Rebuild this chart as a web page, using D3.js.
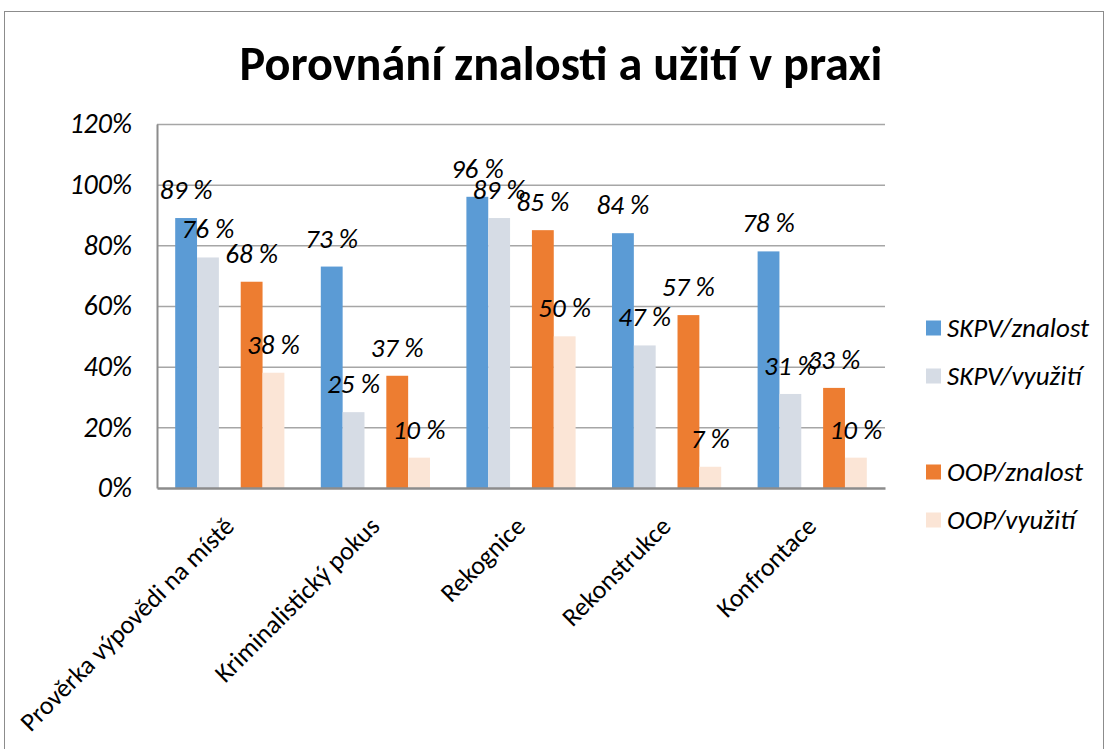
<!DOCTYPE html>
<html>
<head>
<meta charset="utf-8">
<script src="https://cdn.jsdelivr.net/npm/d3@7"></script>
<style>
  body { margin: 0; background: #fff; }
  svg { display: block; font-family: Carlito, Lato, sans-serif; }
</style>
</head>
<body>
<svg id="chart" width="1106" height="749"></svg>
<script>
// data
const categories = ["Prověrka výpovědi na místě", "Kriminalistický pokus", "Rekognice", "Rekonstrukce", "Konfrontace"];
const seriesNames = ["SKPV/znalost", "SKPV/využití", "", "OOP/znalost", "OOP/využití"]; // "" = empty series slot like in the original
const skpvZnalost = [89, 73, 96, 84, 78];
const skpvVyuziti = [76, 25, 89, 47, 31];
const oopZnalost = [68, 37, 85, 57, 33];
const oopVyuziti = [38, 10, 50, 7, 10];
const yTicks = [0, 20, 40, 60, 80, 100, 120];

const colors = {
    "SKPV/znalost": "#5B9BD5",
    "SKPV/využití": "#D6DCE5",
    "OOP/znalost": "#ED7D31",
    "OOP/využití": "#FBE5D6"
};
const values = {
    "SKPV/znalost": skpvZnalost,
    "SKPV/využití": skpvVyuziti,
    "OOP/znalost": oopZnalost,
    "OOP/využití": oopVyuziti
};

const svg = d3.select("#chart");

// outer frame of the chart
svg.append("rect")
    .attr("x", 4.5).attr("y", 11.5)
    .attr("width", 1099).attr("height", 760)
    .attr("fill", "none").attr("stroke", "#8c8c8c").attr("stroke-width", 1);

// title, fitted to the width it has in the original
const title = svg.append("text")
    .attr("x", 561).attr("y", 80)
    .attr("text-anchor", "middle")
    .attr("font-weight", "bold")
    .attr("font-size", 44)
    .text("Porovnání znalosti a užití v praxi");
const tw = title.node().getComputedTextLength();
title.attr("font-size", 44 * 643 / tw);

const plotL = 157, plotR = 885, plotT = 124, plotB = 488;

const x = d3.scaleBand()
    .domain(categories)
    .range([plotL, plotR])
    .paddingInner(0.25)
    .paddingOuter(0.125);

const xs = d3.scaleBand()
    .domain(seriesNames)
    .range([0, x.bandwidth()]);

const y = d3.scaleLinear()
    .domain([0, 120])
    .range([plotB, plotT]);

// gridlines
svg.append("g")
    .attr("transform", `translate(${plotL},0)`)
    .call(d3.axisLeft(y).tickValues(yTicks.slice(1)).tickSize(-(plotR - plotL)).tickFormat(""))
    .call(g => g.select(".domain").remove())
    .call(g => g.selectAll("line").attr("stroke", "#a6a6a6").attr("stroke-width", 1.5));

// y axis
svg.append("g")
    .attr("transform", `translate(${plotL},0)`)
    .call(d3.axisLeft(y).tickValues(yTicks).tickFormat(d => d + "%").tickSize(0).tickPadding(25))
    .call(g => g.select(".domain").attr("stroke", "#8c8c8c").attr("stroke-width", 2))
    .call(g => g.selectAll("text")
        .attr("font-size", 28)
        .attr("font-style", "italic")
        .attr("font-family", "Carlito, Lato, sans-serif")
        .attr("fill", "#000"));

// bars
const barSeries = seriesNames.filter(s => s !== "");
const groups = svg.append("g").selectAll("g")
    .data(categories)
    .join("g")
    .attr("transform", d => `translate(${x(d)},0)`);

groups.selectAll("rect")
    .data((c, i) => barSeries.map(s => ({ s: s, v: values[s][i] })))
    .join("rect")
    .attr("x", d => xs(d.s))
    .attr("y", d => y(d.v))
    .attr("width", xs.bandwidth())
    .attr("height", d => y(0) - y(d.v))
    .attr("fill", d => colors[d.s]);

// x axis line
svg.append("g")
    .attr("transform", `translate(0,${plotB})`)
    .call(d3.axisBottom(x).tickSize(0).tickFormat(""))
    .call(g => g.select(".domain").attr("stroke", "#8c8c8c").attr("stroke-width", 2.5));

// value labels
groups.selectAll("text.val")
    .data((c, i) => barSeries.map(s => ({ s: s, v: values[s][i] })))
    .join("text")
    .attr("class", "val")
    .attr("x", d => xs(d.s) + xs.bandwidth() / 2)
    .attr("y", d => y(d.v) - 19)
    .attr("text-anchor", "middle")
    .attr("font-size", 27)
    .attr("font-style", "italic")
    .text(d => d.v + " %");

// category labels
svg.append("g").selectAll("text")
    .data(categories)
    .join("text")
    .attr("transform", d => `translate(${x(d) + x.bandwidth() / 2 - 8},514) rotate(-45)`)
    .attr("text-anchor", "end")
    .attr("dy", "0.75em")
    .attr("font-size", 26)
    .text(d => d);

// legend
const legend = svg.append("g").selectAll("g")
    .data(seriesNames)
    .join("g")
    .attr("transform", (d, i) => `translate(926,${328 + i * 48})`);

legend.filter(d => d !== "").append("rect")
    .attr("x", 0).attr("y", -7.5)
    .attr("width", 15).attr("height", 15)
    .attr("fill", d => colors[d]);

legend.filter(d => d !== "").append("text")
    .attr("x", 21).attr("dy", "0.35em")
    .attr("font-size", 27)
    .attr("font-style", "italic")
    .text(d => d);
</script>
</body>
</html>
